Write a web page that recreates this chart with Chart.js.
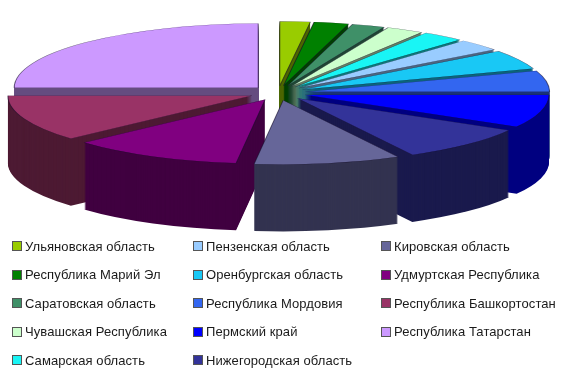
<!DOCTYPE html>
<html lang="ru">
<head>
<meta charset="utf-8">
<title>Регионы</title>
<script src="https://cdn.jsdelivr.net/npm/chart.js@4"></script>
<style>
    html, body { margin: 0; background: #fff; }
    #wrap { position: relative; width: 580px; height: 378px; overflow: hidden; }
    #pie { position: absolute; left: 0; top: 0; }
    #legend {
        position: absolute; left: 12px; top: 232px;
        display: grid; grid-auto-flow: column;
        grid-template-rows: repeat(5, 28.5px);
        grid-template-columns: 181px 188px 190px;
        font: 13px "Liberation Sans", Arial, sans-serif;
        letter-spacing: 0.08px; color: #1a1a1a;
    }
    .item { display: flex; align-items: center; white-space: nowrap; }
    .box { width: 8px; height: 8px; margin-right: 3px; border: 1px solid #555; flex: none; }
</style>
</head>
<body>
<div id="wrap">
    <canvas id="pie" width="580" height="378"></canvas>
    <div id="legend"></div>
</div>
<script>
    const regions = [
        'Ульяновская область', 'Республика Марий Эл', 'Саратовская область', 'Чувашская Республика',
        'Самарская область', 'Пензенская область', 'Оренбургская область', 'Республика Мордовия',
        'Пермский край', 'Нижегородская область', 'Кировская область', 'Удмуртская Республика',
        'Республика Башкортостан', 'Республика Татарстан'
    ];
    const shares = [2.0, 2.3, 2.2, 2.5, 2.8, 3.0, 4.9, 5.3, 8.3, 8.9, 9.7, 11.4, 11.7, 25.0];
    const topColors = [
        '#99cc00', '#008000', '#3f9068', '#ccffcc', '#19f5f5', '#99ccff', '#19c8f5',
        '#3366f0', '#0000ff', '#333399', '#666699', '#800080', '#993366', '#cc99ff'
    ];
    const sideColors = [
        '#4d6600', '#004000', '#204834', '#668066', '#0d7b7b', '#4d6680', '#0d647b',
        '#1a3378', '#000080', '#1a1a4d', '#333350', '#400040', '#4d1a33', '#664c80'
    ];

    // squash the flat pie into an ellipse and stack darker copies under it for the depth
    const CENTER_X = 278, CENTER_Y = 93, RADIUS_X = 244, SQUASH = 0.263, DEPTH = 67, EXPLODE = 28;

    const tiltPlugin = {
        id: 'tilt',
        beforeDatasetsDraw(chart) {
            const ctx = chart.ctx;
            const arcs = chart.getDatasetMeta(0).data;
            const first = arcs[0];
            const k = RADIUS_X / first.outerRadius;

            // the arc's own offset option narrows the slices, so move them out here instead
            const drawSlice = (arc) => {
                const mid = (arc.startAngle + arc.endAngle) / 2;
                ctx.save();
                ctx.translate(Math.cos(mid) * EXPLODE / k, Math.sin(mid) * EXPLODE / k);
                arc.draw(ctx);
                ctx.restore();
            };

            for (let dy = DEPTH; dy >= 0; dy--) {
                ctx.save();
                ctx.translate(CENTER_X, CENTER_Y + dy);
                ctx.scale(k, k * SQUASH);
                ctx.translate(-first.x, -first.y);
                arcs.forEach((arc, i) => {
                    if (dy === 0) {
                        drawSlice(arc);
                        return;
                    }
                    const layer = Object.create(arc);
                    layer.options = { ...arc.options, backgroundColor: sideColors[i], borderWidth: 0 };
                    drawSlice(layer);
                });
                ctx.restore();
            }
            return false;
        }
    };

    new Chart(document.getElementById('pie').getContext('2d'), {
        type: 'pie',
        data: {
            labels: regions,
            datasets: [{
                data: shares,
                backgroundColor: topColors,
                borderColor: 'rgba(20, 10, 40, 0.6)',
                borderWidth: 0.8
            }]
        },
        options: {
            responsive: false,
            animation: false,
            plugins: { legend: { display: false }, tooltip: { enabled: false } }
        },
        plugins: [tiltPlugin]
    });

    // legend is plain html, three columns like the original
    document.getElementById('legend').innerHTML = regions.map((name, i) => `
        <div class="item">
            <div class="box" style="background-color: ${topColors[i]}"></div>
            <span>${name}</span>
        </div>
    `).join('');
</script>
</body>
</html>
